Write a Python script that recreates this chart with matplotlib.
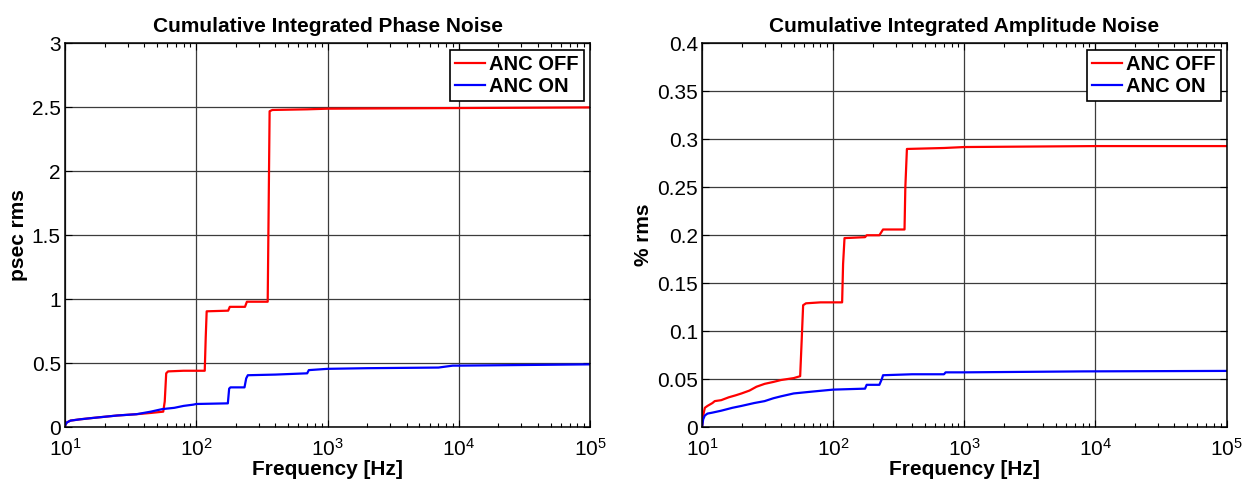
import numpy as np
import matplotlib
matplotlib.use("Agg")
import matplotlib.pyplot as plt
from matplotlib.ticker import LogLocator, NullFormatter

plt.rcParams['font.family'] = ['Liberation Sans', 'DejaVu Sans']
plt.rcParams['mathtext.fontset'] = 'custom'
plt.rcParams['mathtext.rm'] = 'Liberation Sans'
plt.rcParams['mathtext.it'] = 'Liberation Sans'
plt.rcParams['mathtext.default'] = 'regular'

# cumulative integrated phase noise (psec rms)
phase_off_f = [10, 10.3, 11, 13, 16, 20, 25, 35, 45, 56, 57.5, 59, 61, 80, 116, 118, 120,
               175, 180, 235, 243, 350, 355, 362, 380, 700, 1000, 1e4, 1e5]
phase_off_v = [0.01, 0.035, 0.05, 0.06, 0.07, 0.08, 0.09, 0.10, 0.11, 0.12, 0.2, 0.42, 0.435, 0.44, 0.44, 0.7, 0.905,
               0.91, 0.94, 0.94, 0.98, 0.98, 1.6, 2.47, 2.48, 2.485, 2.49, 2.495, 2.5]
phase_on_f = [10, 10.3, 11, 13, 16, 20, 25, 35, 45, 55, 68, 80, 95, 100, 174, 178, 182,
              233, 240, 247, 400, 700, 720, 1000, 2000, 7000, 9000, 1e4, 1e5]
phase_on_v = [0.01, 0.035, 0.05, 0.06, 0.07, 0.08, 0.09, 0.10, 0.12, 0.14, 0.15, 0.165, 0.175, 0.18, 0.185, 0.3, 0.31,
              0.31, 0.38, 0.405, 0.41, 0.42, 0.445, 0.455, 0.46, 0.465, 0.48, 0.48, 0.49]

# cumulative integrated amplitude noise (% rms)
amp_off_f = [10, 10.2, 10.5, 11, 12, 12.5, 14, 16, 18, 20, 23, 26, 30, 35, 40, 50, 56, 57.5, 59, 62,
             80, 117, 119, 122, 175, 180, 225, 240, 350, 355, 365, 700, 1000, 1e4, 1e5]
amp_off_v = [0.0, 0.012, 0.02, 0.022, 0.025, 0.027, 0.028, 0.031, 0.033, 0.035, 0.038, 0.042, 0.045, 0.047, 0.049,
             0.051, 0.053, 0.09, 0.127, 0.129, 0.13, 0.13, 0.17, 0.197, 0.198, 0.2, 0.2, 0.206, 0.206, 0.25, 0.29,
             0.291, 0.292, 0.293, 0.293]
amp_on_f = [10, 10.2, 10.5, 11, 12, 14, 17, 20, 25, 30, 35, 40, 50, 70, 100, 175, 180, 225, 235, 240,
            400, 700, 720, 1000, 8000, 1e5]
amp_on_v = [0.0, 0.008, 0.012, 0.014, 0.015, 0.017, 0.02, 0.022, 0.025, 0.027, 0.03, 0.032, 0.035, 0.037, 0.039,
            0.04, 0.044, 0.044, 0.05, 0.054, 0.055, 0.055, 0.057, 0.057, 0.058, 0.0585]

fig = plt.figure(figsize=(12.53, 4.87), dpi=100)
ax1 = fig.add_axes([0.0519, 0.1232, 0.419, 0.7875])
ax2 = fig.add_axes([0.5603, 0.1232, 0.4186, 0.7875])

panels = [
    (ax1, phase_off_f, phase_off_v, phase_on_f, phase_on_v,
     'Cumulative Integrated Phase Noise', 'psec rms', 3, np.arange(0, 3.01, 0.5)),
    (ax2, amp_off_f, amp_off_v, amp_on_f, amp_on_v,
     'Cumulative Integrated Amplitude Noise', '% rms', 0.4, np.arange(0, 0.401, 0.05)),
]

for ax, f_off, v_off, f_on, v_on, title, ylab, ymax, yt in panels:
    ax.semilogx(f_off, v_off, color='#ff0000', lw=1.6, label='ANC OFF')
    ax.semilogx(f_on, v_on, color='#0000ff', lw=1.6, label='ANC ON')
    ax.set_xlim(10, 1e5)
    ax.set_ylim(0, ymax)
    ax.set_yticks(yt)
    ax.set_yticklabels(['%g' % t for t in yt])
    ax.xaxis.set_major_locator(LogLocator(base=10, numticks=10))
    ax.xaxis.set_minor_locator(LogLocator(base=10, subs=np.arange(2, 10), numticks=100))
    ax.xaxis.set_minor_formatter(NullFormatter())
    ax.grid(True, which='major', color='#3c3c3c', lw=0.9)
    ax.tick_params(which='both', direction='in', top=True, right=True, labelsize=15)
    ax.tick_params(axis='x', pad=8)
    ax.tick_params(axis='y', pad=3)
    ax.tick_params(which='major', length=5, width=0.8)
    ax.tick_params(which='minor', length=3, width=0.8)
    for s in ax.spines.values():
        s.set_linewidth(1.1)
    ax.set_title(title, fontsize=15, fontweight='bold', pad=8)
    ax.set_xlabel('Frequency [Hz]', fontsize=15, fontweight='bold', labelpad=0)
    ax.set_ylabel(ylab, fontsize=15, fontweight='bold', labelpad=3)
    leg = ax.legend(loc='upper right', prop={'weight': 'bold', 'size': 14.5},
                    fancybox=False, edgecolor='black', framealpha=1, handlelength=1.5,
                    handletextpad=0.2, borderpad=0.25, labelspacing=0.15, borderaxespad=0.3)
    leg.get_frame().set_linewidth(1.2)

fig.savefig('out.png', dpi=100)
